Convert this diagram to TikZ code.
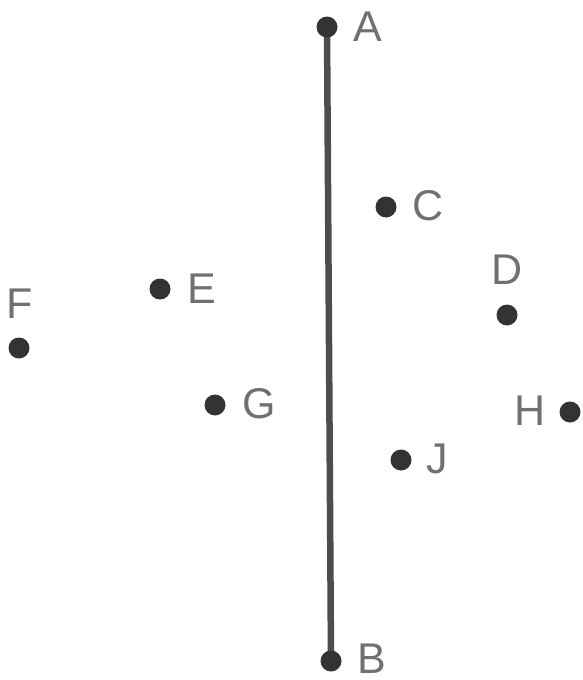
\documentclass[tikz,border=0pt]{standalone}
\usepackage{fontspec}
\setmainfont{Liberation Sans}
\definecolor{dotc}{HTML}{333333}
\definecolor{linec}{HTML}{4D4D4D}
\definecolor{labc}{HTML}{707070}
\begin{document}
\begin{tikzpicture}[x=1pt,y=-1pt,
  pt/.style={circle,fill=dotc,inner sep=0pt,minimum size=21pt},
  lab/.style={text=labc,font=\fontsize{43}{43}\selectfont,inner sep=0pt}]
\useasboundingbox (0,0) rectangle (582,680);
\coordinate (a) at (327,27);
\coordinate (b) at (331,661);
\draw[linec,line width=6.5pt] (a) -- (b);
\node[pt] (A) at (a) {};
\node[pt] (B) at (b) {};
\node[pt] (C) at (386,207) {};
\node[pt] (D) at (507,315) {};
\node[pt] (E) at (160,289) {};
\node[pt] (F) at (19,348) {};
\node[pt] (G) at (215,405) {};
\node[pt] (H) at (570,412) {};
\node[pt] (J) at (401,460) {};
\node[lab] (lA) at (368,27) {A};
\node[lab] (lB) at (372,659) {B};
\node[lab] (lC) at (428,206) {C};
\node[lab] (lD) at (507,270) {D};
\node[lab] (lE) at (202,289) {E};
\node[lab] (lF) at (20,304) {F};
\node[lab] (lG) at (259,404) {G};
\node[lab] (lH) at (530,411) {H};
\node[lab] (lJ) at (437,459) {J};
\end{tikzpicture}
\end{document}
